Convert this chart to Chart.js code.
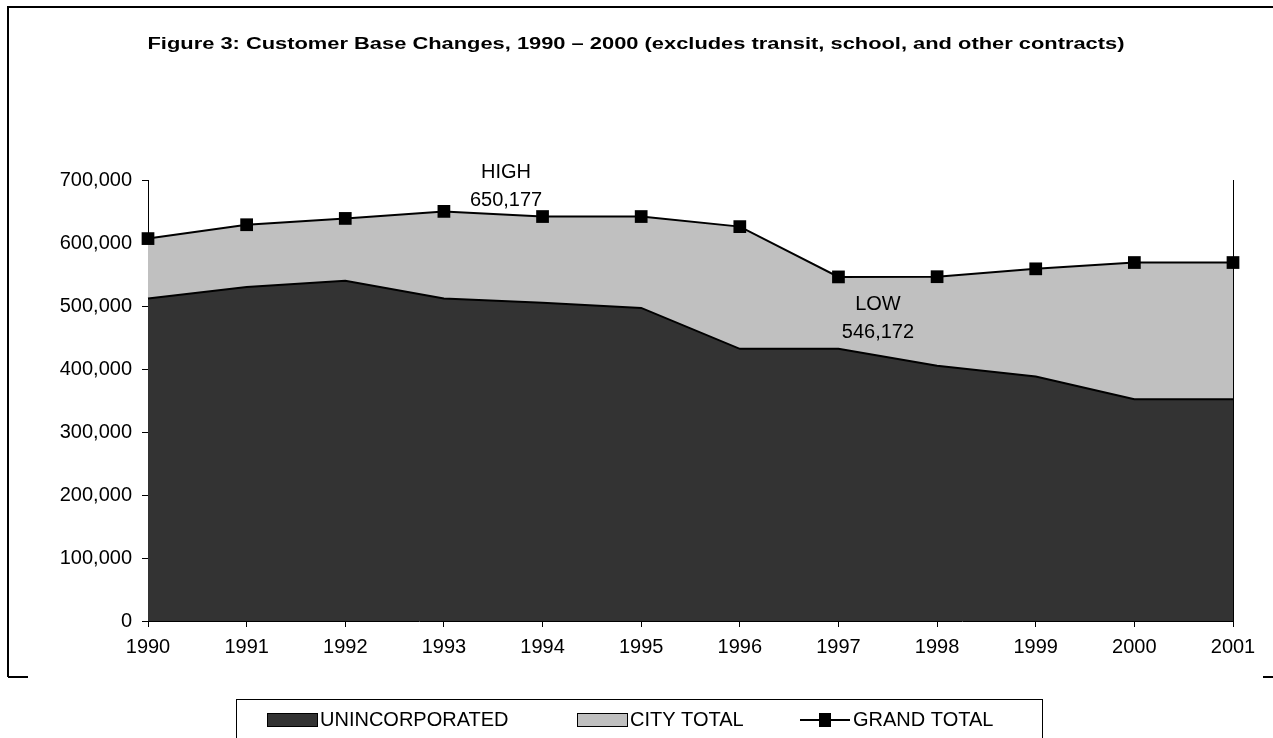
<!DOCTYPE html>
<html>
<head>
<meta charset="utf-8">
<script src="https://cdn.jsdelivr.net/npm/chart.js@4/dist/chart.umd.min.js"></script>
<style>
  html, body { margin: 0; padding: 0; background: #ffffff; }
  #wrap { width: 1273px; height: 738px; position: relative; }
</style>
</head>
<body>
<div id="wrap"><canvas id="grafico" width="1273" height="738"></canvas></div>
<script>
// dados
const anos = ['1990', '1991', '1992', '1993', '1994', '1995', '1996', '1997', '1998', '1999', '2000', '2001'];
const unincorporated = [512000, 530000, 540000, 512000, 505000, 497000, 432000, 432000, 405000, 388000, 352000, 352000];
const grandTotal = [607000, 629000, 639000, 650177, 642000, 642000, 626000, 546172, 546500, 559000, 569000, 569000];
// city total = grand total - unincorporated
const cityTotal = [95000, 99000, 99000, 138177, 137000, 145000, 194000, 114172, 141500, 171000, 217000, 217000];
const yTicks = [0, 100000, 200000, 300000, 400000, 500000, 600000, 700000];

const titulo = 'Figure 3: Customer Base Changes, 1990 \u2013 2000 (excludes transit, school, and other contracts)';
const nomes = ['UNINCORPORATED', 'CITY TOTAL', 'GRAND TOTAL'];
// rótulos de máximo e mínimo
const notas = [
    { idx: 3.63, valor: 650177, linhas: ['HIGH', '650,177'], desloc: -11 },
    { idx: 7.4, valor: 546172, linhas: ['LOW', '546,172'], desloc: 56 }
];

const fonte = '"Liberation Sans", Arial, sans-serif';

// moldura, título, linha direita, notas e legenda
const extras = {
    id: 'extras',
    afterDraw(chart) {
        const ctx = chart.ctx;
        const area = chart.chartArea;
        const x = chart.scales.x;
        const y = chart.scales.y;
        ctx.save();

        // moldura externa (recortada)
        ctx.strokeStyle = '#000';
        ctx.lineWidth = 2;
        ctx.beginPath();
        ctx.moveTo(8, 677); ctx.lineTo(8, 7); ctx.lineTo(1273, 7);
        ctx.stroke();
        ctx.beginPath();
        ctx.moveTo(8, 677); ctx.lineTo(28, 677);
        ctx.moveTo(1263, 677); ctx.lineTo(1273, 677);
        ctx.stroke();

        // título (esticado na horizontal como no original)
        ctx.fillStyle = '#000';
        ctx.font = 'bold 16px ' + fonte;
        ctx.textAlign = 'center';
        ctx.textBaseline = 'middle';
        const larg = ctx.measureText(titulo).width;
        ctx.save();
        ctx.translate(636, 45);
        ctx.scale(977 / larg, 1);
        ctx.fillText(titulo, 0, 0);
        ctx.restore();

        // linha vertical à direita
        ctx.lineWidth = 1;
        ctx.beginPath();
        ctx.moveTo(area.right + 0.5, area.top);
        ctx.lineTo(area.right + 0.5, area.bottom);
        ctx.stroke();

        // notas HIGH / LOW
        ctx.font = '20px ' + fonte;
        notas.forEach(n => {
            const px = x.left + (x.right - x.left) * n.idx / (anos.length - 1);
            const base = y.getPixelForValue(n.valor) + n.desloc;
            ctx.fillText(n.linhas[0], px, base - 28);
            ctx.fillText(n.linhas[1], px, base);
        });

        // legenda
        ctx.strokeStyle = '#000';
        ctx.lineWidth = 1;
        ctx.strokeRect(236.5, 699.5, 806, 60);
        const ds = chart.data.datasets;
        ctx.font = '20px ' + fonte;
        ctx.textAlign = 'left';
        const itens = [267, 577, 800];
        itens.forEach((lx, i) => {
            if (i < 2) {
                ctx.fillStyle = ds[i].backgroundColor;
                ctx.fillRect(lx, 713, 51, 14);
                ctx.strokeStyle = '#000';
                ctx.strokeRect(lx + 0.5, 713.5, 50, 13);
            } else {
                ctx.strokeStyle = '#000';
                ctx.lineWidth = 2;
                ctx.beginPath();
                ctx.moveTo(lx, 720); ctx.lineTo(lx + 50, 720);
                ctx.stroke();
                ctx.fillStyle = '#000';
                ctx.fillRect(lx + 19, 713, 12, 14);
            }
            ctx.fillStyle = '#000';
            ctx.fillText(nomes[i], lx + 53, 720);
        });
        ctx.restore();
    }
};

function desenharGrafico() {
    const ctx = document.getElementById('grafico').getContext('2d');

    new Chart(ctx, {
        type: 'line',
        data: {
            labels: anos,
            datasets: [
                {
                    label: nomes[0],
                    data: unincorporated,
                    stack: 'areas',
                    backgroundColor: '#333333',
                    borderColor: '#000000',
                    borderWidth: 2,
                    fill: 'origin',
                    pointRadius: 0,
                    tension: 0,
                    order: 1
                },
                {
                    label: nomes[1],
                    data: cityTotal,
                    stack: 'areas',
                    backgroundColor: '#c0c0c0',
                    borderColor: '#c0c0c0',
                    borderWidth: 0,
                    fill: '-1',
                    pointRadius: 0,
                    tension: 0,
                    order: 2
                },
                {
                    label: nomes[2],
                    data: grandTotal,
                    stack: 'total',
                    borderColor: '#000000',
                    backgroundColor: '#000000',
                    borderWidth: 2,
                    fill: false,
                    pointStyle: 'rect',
                    pointRadius: 9,
                    pointHoverRadius: 9,
                    pointBorderWidth: 0,
                    tension: 0,
                    order: 0
                }
            ]
        },
        options: {
            responsive: false,
            animation: false,
            layout: { padding: { top: 180, right: 40, bottom: 0, left: 0 } },
            scales: {
                x: {
                    offset: false,
                    afterFit: s => { s.height = 117; },
                    grid: { drawOnChartArea: false, color: '#000', tickLength: 6 },
                    border: { color: '#000', width: 1 },
                    ticks: { color: '#000', font: { family: fonte, size: 20 }, padding: 8, maxRotation: 0 }
                },
                y: {
                    stacked: true,
                    min: 0,
                    max: 700000,
                    afterFit: s => { s.width = 148; },
                    afterBuildTicks: s => { s.ticks = yTicks.map(v => ({ value: v })); },
                    grid: { drawOnChartArea: false, color: '#000', tickLength: 6 },
                    border: { color: '#000', width: 1 },
                    ticks: {
                        color: '#000',
                        font: { family: fonte, size: 20 },
                        padding: 10,
                        callback: v => v.toLocaleString('en-US')
                    }
                }
            },
            plugins: {
                legend: { display: false },
                tooltip: { enabled: false }
            }
        },
        plugins: [extras]
    });
}

document.addEventListener('DOMContentLoaded', desenharGrafico);
</script>
</body>
</html>
